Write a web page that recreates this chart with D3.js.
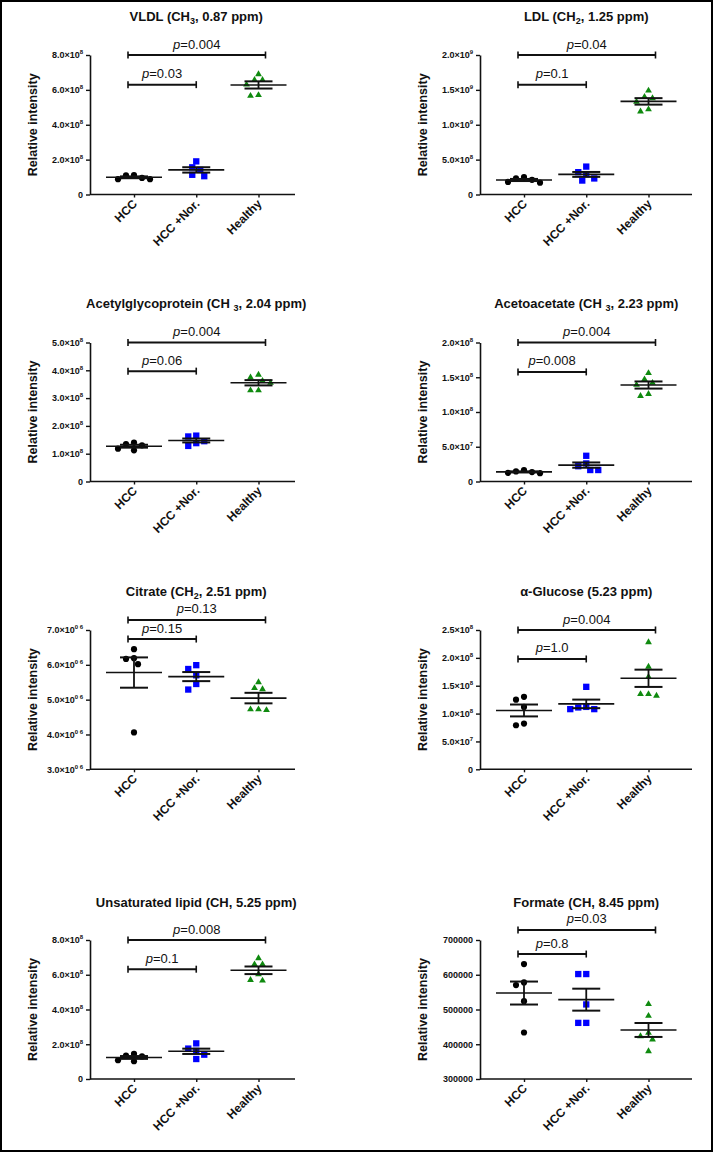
<!DOCTYPE html>
<html><head><meta charset="utf-8">
<script src="https://cdn.jsdelivr.net/npm/d3@7"></script>
<style>
body{margin:0;background:#fff}
svg{display:block}
text{font-family:"Liberation Sans",Arial,sans-serif;fill:#111}
</style>
</head><body>
<svg id="c" width="714" height="1153"></svg>
<script>
// ---------- DATA ----------
const categories = ["HCC", "HCC +Nor.", "Healthy"];
const groupColors = ["#000000", "#0000ff", "#0f8a0f"];

const titles = [
  "VLDL (CH_3, 0.87 ppm)",
  "LDL (CH_2, 1.25 ppm)",
  "Acetylglycoprotein (CH _3, 2.04 ppm)",
  "Acetoacetate (CH _3, 2.23 ppm)",
  "Citrate (CH_2, 2.51 ppm)",
  "α-Glucose (5.23 ppm)",
  "Unsaturated lipid (CH, 5.25 ppm)",
  "Formate (CH, 8.45 ppm)"
];

// VLDL
const vldlHCC = [1.12e8, 0.95e8, 0.88e8, 0.88e8, 1.10e8];
const vldlNor = [1.90e8, 1.41e8, 1.56e8, 1.05e8, 1.13e8];
const vldlHealthy = [6.90e8, 6.57e8, 6.57e8, 6.30e8, 5.66e8, 5.70e8];
const vldlTicks = [0, 2e8, 4e8, 6e8, 8e8];
const vldlTickLabels = ["0", "2.0×10^8", "4.0×10^8", "6.0×10^8", "8.0×10^8"];
const vldlP = ["p=0.03", "p=0.004"];
const vldlPLevels = [6.3e8, 8.0e8];

// LDL
const ldlHCC = [0.25e9, 0.21e9, 0.17e9, 0.18e9, 0.23e9];
const ldlNor = [0.40e9, 0.29e9, 0.32e9, 0.20e9, 0.23e9];
const ldlHealthy = [1.49e9, 1.38e9, 1.40e9, 1.33e9, 1.19e9, 1.22e9];
const ldlTicks = [0, 5e8, 1e9, 1.5e9, 2e9];
const ldlTickLabels = ["0", "5.0×10^8", "1.0×10^9", "1.5×10^9", "2.0×10^9"];
const ldlP = ["p=0.1", "p=0.04"];
const ldlPLevels = [1.575e9, 2.0e9];

// Acetylglycoprotein
const glycHCC = [1.40e8, 1.30e8, 1.12e8, 1.18e8, 1.35e8];
const glycNor = [1.65e8, 1.62e8, 1.45e8, 1.28e8, 1.38e8];
const glycHealthy = [3.84e8, 3.74e8, 3.62e8, 3.55e8, 3.28e8, 3.28e8];
const glycTicks = [0, 1e8, 2e8, 3e8, 4e8, 5e8];
const glycTickLabels = ["0", "1.0×10^8", "2.0×10^8", "3.0×10^8", "4.0×10^8", "5.0×10^8"];
const glycP = ["p=0.06", "p=0.004"];
const glycPLevels = [3.97e8, 5.0e8];

// Acetoacetate
const acacHCC = [1.65e7, 1.35e7, 1.20e7, 1.25e7, 1.45e7];
const acacNor = [3.70e7, 2.60e7, 2.20e7, 1.65e7, 1.65e7];
const acacHealthy = [1.56e8, 1.42e8, 1.47e8, 1.39e8, 1.23e8, 1.26e8];
const acacTicks = [0, 5e7, 1e8, 1.5e8, 2e8];
const acacTickLabels = ["0", "5.0×10^7", "1.0×10^8", "1.5×10^8", "2.0×10^8"];
const acacP = ["p=0.008", "p=0.004"];
const acacPLevels = [1.577e8, 2.0e8];

// Citrate
const citHCC = [6.45e6, 6.17e6, 6.19e6, 6.02e6, 4.06e6];
const citNor = [5.99e6, 5.88e6, 5.70e6, 5.29e6, 5.45e6];
const citHealthy = [5.50e6, 5.33e6, 5.30e6, 4.72e6, 4.70e6, 4.72e6];
const citTicks = [3e6, 4e6, 5e6, 6e6, 7e6];
const citTickLabels = ["3.0×10^0 6", "4.0×10^0 6", "5.0×10^0 6", "6.0×10^0 6", "7.0×10^0 6"];
const citP = ["p=0.15", "p=0.13"];
const citPLevels = [6.74e6, 7.29e6];

// alpha-Glucose
const gluHCC = [1.30e8, 1.25e8, 1.12e8, 0.79e8, 0.82e8];
const gluNor = [1.48e8, 1.11e8, 1.08e8, 1.08e8, 1.12e8];
const gluHealthy = [2.28e8, 1.84e8, 1.66e8, 1.35e8, 1.32e8, 1.35e8];
const gluTicks = [0, 5e7, 1e8, 1.5e8, 2e8, 2.5e8];
const gluTickLabels = ["0", "5.0×10^7", "1.0×10^8", "1.5×10^8", "2.0×10^8", "2.5×10^8"];
const gluP = ["p=1.0", "p=0.004"];
const gluPLevels = [1.98e8, 2.5e8];

// Unsaturated lipid
const unsHCC = [1.30e8, 1.45e8, 1.02e8, 1.08e8, 1.35e8];
const unsNor = [2.05e8, 1.62e8, 1.75e8, 1.15e8, 1.40e8];
const unsHealthy = [6.95e8, 6.60e8, 6.60e8, 6.03e8, 5.66e8, 5.70e8];
const unsTicks = [0, 2e8, 4e8, 6e8, 8e8];
const unsTickLabels = ["0", "2.0×10^8", "4.0×10^8", "6.0×10^8", "8.0×10^8"];
const unsP = ["p=0.1", "p=0.008"];
const unsPLevels = [6.32e8, 8.0e8];

// Formate
const forHCC = [630800, 570200, 578000, 524000, 433800];
const forNor = [602000, 602000, 514600, 461500, 461500];
const forHealthy = [515400, 481700, 423200, 432700, 413600, 379900];
const forTicks = [300000, 400000, 500000, 600000, 700000];
const forTickLabels = ["300000", "400000", "500000", "600000", "700000"];
const forP = ["p=0.8", "p=0.03"];
const forPLevels = [659600, 728800];

const panels = [
  {title: titles[0], groups: [vldlHCC, vldlNor, vldlHealthy], ticks: vldlTicks, labels: vldlTickLabels, p: vldlP, pl: vldlPLevels},
  {title: titles[1], groups: [ldlHCC, ldlNor, ldlHealthy], ticks: ldlTicks, labels: ldlTickLabels, p: ldlP, pl: ldlPLevels},
  {title: titles[2], groups: [glycHCC, glycNor, glycHealthy], ticks: glycTicks, labels: glycTickLabels, p: glycP, pl: glycPLevels},
  {title: titles[3], groups: [acacHCC, acacNor, acacHealthy], ticks: acacTicks, labels: acacTickLabels, p: acacP, pl: acacPLevels},
  {title: titles[4], groups: [citHCC, citNor, citHealthy], ticks: citTicks, labels: citTickLabels, p: citP, pl: citPLevels},
  {title: titles[5], groups: [gluHCC, gluNor, gluHealthy], ticks: gluTicks, labels: gluTickLabels, p: gluP, pl: gluPLevels},
  {title: titles[6], groups: [unsHCC, unsNor, unsHealthy], ticks: unsTicks, labels: unsTickLabels, p: unsP, pl: unsPLevels},
  {title: titles[7], groups: [forHCC, forNor, forHealthy], ticks: forTicks, labels: forTickLabels, p: forP, pl: forPLevels}
];

// ---------- LAYOUT ----------
const cols = [{axisX: 90, len: 205}, {axisX: 480, len: 212}];
const rows = [
  {top: 55, bottom: 194.5, titleY: 20.7},
  {top: 342.5, bottom: 481.5, titleY: 307.5},
  {top: 630, bottom: 769.3, titleY: 595.5},
  {top: 940, bottom: 1079, titleY: 906.7}
];

const svg = d3.select("#c");
svg.append("rect").attr("x", 1).attr("y", 1).attr("width", 711).attr("height", 1150)
  .attr("fill", "none").attr("stroke", "#000").attr("stroke-width", 2);

const symbolTypes = [d3.symbolCircle, d3.symbolSquare, d3.symbolTriangle];
const symbolSizes = [30, 40, 20];

function richTitle(sel, str) {
  const parts = str.split(/_(\d)/);
  parts.forEach((p, i) => {
    if (i % 2 === 1) {
      sel.append("tspan").attr("font-size", 9).attr("dy", 3).text(p);
    } else if (p.length) {
      const t = sel.append("tspan").text(p);
      if (i > 0) t.attr("dy", -3);
    }
  });
}

function beeswarm(values, y, cx) {
  const order = values.map((v, i) => i).sort((a, b) => values[b] - values[a]);
  const placed = [];
  const out = new Array(values.length);
  const cands = [0];
  for (let k = 1; k < 12; k++) { cands.push(-4 * k, 4 * k); }
  order.forEach(i => {
    const py = y(values[i]);
    for (const c of cands) {
      const ok = placed.every(p => Math.hypot(p.x - c, p.y - py) >= 7);
      if (ok) { placed.push({x: c, y: py}); out[i] = {x: cx + c, y: py}; break; }
    }
  });
  return out;
}

panels.forEach((pd, idx) => {
  const col = cols[idx % 2], row = rows[Math.floor(idx / 2)];
  const g = svg.append("g");
  const ax = col.axisX;
  const x = d3.scalePoint().domain(categories).range([ax + 44, ax + 168.5]);
  const y = d3.scaleLinear().domain([pd.ticks[0], pd.ticks[pd.ticks.length - 1]]).range([row.bottom, row.top]);

  // title
  const tt = g.append("text").attr("x", x(categories[1])).attr("y", row.titleY)
    .attr("text-anchor", "middle").attr("font-size", 13).attr("font-weight", "bold");
  richTitle(tt, pd.title);

  // y axis
  const yAxis = g.append("g").attr("transform", `translate(${ax},0)`)
    .call(d3.axisLeft(y).tickValues(pd.ticks).tickSize(4).tickSizeOuter(0).tickPadding(3).tickFormat(() => ""));
  yAxis.select(".domain").attr("stroke", "#111").attr("stroke-width", 1.6);
  yAxis.selectAll(".tick line").attr("stroke", "#111").attr("stroke-width", 1.4);
  yAxis.selectAll(".tick text").each(function(d, i) {
    const t = d3.select(this).attr("font-size", 9).attr("font-weight", "bold").attr("fill", "#111")
      .attr("font-family", '"Liberation Sans",Arial,sans-serif');
    const lab = pd.labels[i];
    const parts = lab.split("^");
    t.append("tspan").text(parts[0]);
    if (parts.length > 1) {
      t.append("tspan").attr("font-size", 6).attr("dy", -4).text(parts[1]);
    }
  });

  // y label
  const ymid = (row.top + row.bottom) / 2;
  g.append("text").attr("transform", `translate(${ax - 53},${ymid}) rotate(-90)`)
    .attr("text-anchor", "middle").attr("font-size", 12.5).attr("font-weight", "bold")
    .text("Relative intensity");

  // x axis
  g.append("line").attr("x1", ax).attr("x2", ax + col.len).attr("y1", row.bottom).attr("y2", row.bottom)
    .attr("stroke", "#111").attr("stroke-width", 1.6);
  const xAxis = g.append("g").attr("transform", `translate(0,${row.bottom})`)
    .call(d3.axisBottom(x).tickSize(3).tickFormat(""));
  xAxis.select(".domain").remove();
  xAxis.selectAll(".tick line").attr("stroke", "#111").attr("stroke-width", 1.4);
  categories.forEach(c => {
    g.append("text").attr("transform", `translate(${x(c) + 4},${row.bottom + 10}) rotate(-45)`)
      .attr("text-anchor", "end").attr("font-size", 12).attr("font-weight", "bold").text(c);
  });

  // points
  pd.groups.forEach((vals, gi) => {
    const pos = beeswarm(vals, y, x(categories[gi]));
    const sym = d3.symbol().type(symbolTypes[gi]).size(symbolSizes[gi]);
    g.selectAll(null).data(pos).enter().append("path")
      .attr("d", sym).attr("transform", p => `translate(${p.x},${p.y})`)
      .attr("fill", groupColors[gi]);
  });

  // mean +/- SEM
  pd.groups.forEach((vals, gi) => {
    const cx = x(categories[gi]);
    const m = d3.mean(vals);
    const sem = d3.deviation(vals) / Math.sqrt(vals.length);
    const line = (x1, x2, y1, y2, w) => g.append("line").attr("x1", x1).attr("x2", x2).attr("y1", y1).attr("y2", y2)
      .attr("stroke", "#111").attr("stroke-width", w);
    line(cx - 28, cx + 28, y(m), y(m), 1.6);
    line(cx, cx, y(m + sem), y(m - sem), 1.8);
    line(cx - 14, cx + 14, y(m + sem), y(m + sem), 2);
    line(cx - 14, cx + 14, y(m - sem), y(m - sem), 2);
  });

  // significance brackets
  const ends = [x(categories[1]), x(categories[2]) + 7];
  pd.p.forEach((lab, k) => {
    const x1 = x(categories[0]) - 6, x2 = ends[k], by = y(pd.pl[k]);
    g.append("line").attr("x1", x1).attr("x2", x2).attr("y1", by).attr("y2", by)
      .attr("stroke", "#111").attr("stroke-width", 2);
    [x1, x2].forEach(xx => g.append("line").attr("x1", xx).attr("x2", xx).attr("y1", by - 3.5).attr("y2", by + 3.5)
      .attr("stroke", "#111").attr("stroke-width", 1.6));
    const t = g.append("text").attr("x", (x1 + x2) / 2).attr("y", by - 6.5)
      .attr("text-anchor", "middle").attr("font-size", 13);
    t.append("tspan").attr("font-style", "italic").text(lab.slice(0, 1));
    t.append("tspan").text(lab.slice(1));
  });
});
</script>
</body></html>
